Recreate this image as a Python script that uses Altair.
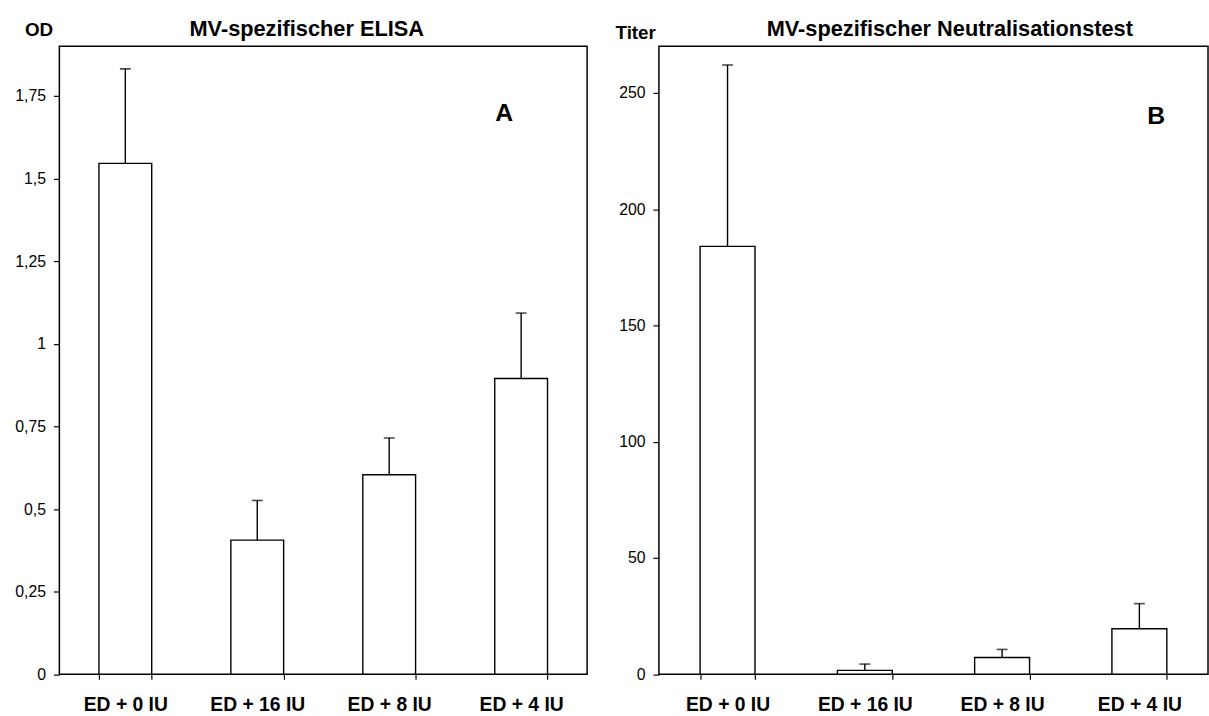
import altair as alt
import pandas as pd

categories = ["ED + 0 IU", "ED + 16 IU", "ED + 8 IU", "ED + 4 IU"]

elisa_mean = [1.546, 0.406, 0.604, 0.895]
elisa_upper = [1.832, 0.526, 0.715, 1.093]
elisa_ticks = [0, 0.25, 0.5, 0.75, 1, 1.25, 1.5, 1.75]

nt_mean = [184, 1.7, 7.2, 19.6]
nt_upper = [262, 4.4, 10.7, 30.4]
nt_ticks = [0, 50, 100, 150, 200, 250]

FONT = "Liberation Sans, Arial, Helvetica, sans-serif"
H = 634.7


def panel(mean, upper, ymax, yticks, ytitle, ytitle_x, ytitle_y, letter, letter_x, letter_y,
          title, title_x, title_y, width):
    df = pd.DataFrame({"cat": categories, "mean": mean, "upper": upper})
    x = alt.X(
        "cat:N",
        sort=categories,
        scale=alt.Scale(paddingInner=0.6, paddingOuter=0.3),
        axis=alt.Axis(
            title=None, labelAngle=0, tickBand="extent", domain=False, grid=False,
            tickSize=5, tickColor="black", tickWidth=1.2,
            labelFont=FONT, labelFontSize=19.5, labelFontWeight="bold", labelColor="black",
            labelPadding=17,
        ),
    )
    yaxis = alt.Axis(
        values=yticks, grid=False, domain=False, tickSize=6, tickColor="black", tickWidth=1.2,
        labelFont=FONT, labelFontSize=16, labelColor="black", labelPadding=8,
        labelExpr="replace(format(datum.value, '~g'), '.', ',')",
        title=ytitle, titleAngle=0, titleX=ytitle_x, titleY=ytitle_y, titleAlign="center",
        titleBaseline="alphabetic", titleFont=FONT, titleFontSize=19, titleFontWeight="bold",
        titleColor="black",
    )
    yscale = alt.Scale(domain=[0, ymax], nice=False, zero=True)
    base = alt.Chart(df)
    bars = base.mark_bar(fill="white", stroke="black", strokeWidth=1.4).encode(
        x=x, y=alt.Y("mean:Q", scale=yscale, axis=yaxis)
    )
    rule = base.mark_rule(color="black", strokeWidth=1.4).encode(
        x=x, y=alt.Y("mean:Q", scale=yscale, axis=yaxis), y2="upper:Q"
    )
    cap = base.mark_tick(color="black", thickness=1.6, size=11, orient="horizontal").encode(
        x=x, y=alt.Y("upper:Q", scale=yscale, axis=yaxis)
    )
    lt = alt.Chart(pd.DataFrame({"t": [letter]})).mark_text(
        font=FONT, fontSize=25, fontWeight="bold", color="black", align="center",
        baseline="alphabetic",
    ).encode(x=alt.value(letter_x), y=alt.value(letter_y), text="t:N")
    tt = alt.Chart(pd.DataFrame({"t": [title]})).mark_text(
        font=FONT, fontSize=22, fontWeight="bold", color="black", align="center",
        baseline="alphabetic",
    ).encode(x=alt.value(title_x), y=alt.value(title_y), text="t:N")
    return alt.layer(bars, rule, cap, lt, tt).properties(width=width, height=H)


left = panel(elisa_mean, elisa_upper, 1.9, elisa_ticks, "OD", -21, -10.7, "A", 449.7, 75,
             "MV-spezifischer ELISA", 250, -10.7, 533.4)
right = panel(nt_mean, nt_upper, 270, nt_ticks, "Titer", -24, -8, "B", 502.7, 78,
              "MV-spezifischer Neutralisationstest", 294, -10, 555)

chart = alt.hconcat(left, right, spacing=25).properties(
    padding={"left": 14, "top": 13, "right": 0, "bottom": 0},
    background="white",
).configure_view(stroke="black", strokeWidth=1.5)

chart.save("out.html", embed_options={"renderer": "svg", "actions": False})
